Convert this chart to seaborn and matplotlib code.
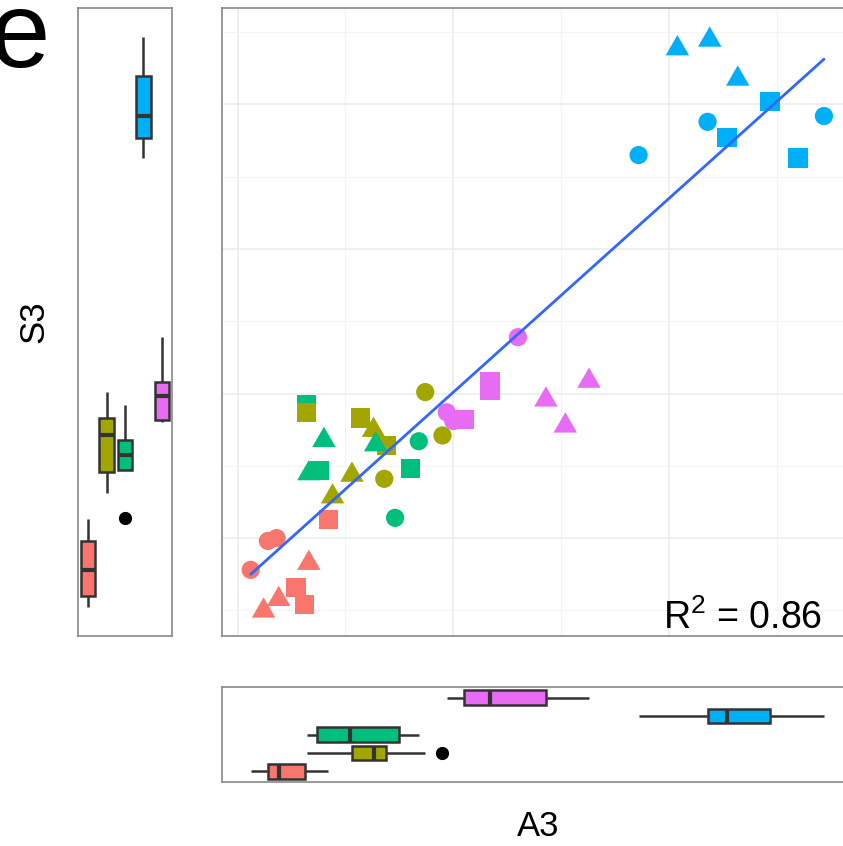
import numpy as np
import pandas as pd
import matplotlib
matplotlib.use('Agg')
import matplotlib.pyplot as plt
import seaborn as sns

# --- data (arbitrary units) -------------------------------------------------
group = (['g1'] * 9 + ['g3'] * 4 + ['g2'] * 9 + ['g3'] * 4
         + ['g5'] * 9 + ['g4'] * 9)
shape = ['circle', 'circle', 'circle', 'triangle', 'triangle', 'triangle', 'square', 'square', 'square',
         'square', 'triangle', 'triangle', 'square',
         'circle', 'circle', 'circle', 'square', 'square', 'square', 'triangle', 'triangle', 'triangle',
         'triangle', 'square', 'circle', 'circle',
         'circle', 'circle', 'circle', 'square', 'square', 'square', 'triangle', 'triangle', 'triangle',
         'triangle', 'triangle', 'triangle', 'square', 'square', 'square', 'circle', 'circle', 'circle']
a3 = [0.06, 0.14, 0.18, 0.33, 0.19, 0.12, 0.27, 0.31, 0.42,
      0.32, 0.40, 0.33, 0.38,
      0.87, 0.95, 0.68, 0.32, 0.57, 0.69, 0.63, 0.53, 0.44,
      0.64, 0.80, 0.84, 0.73,
      1.00, 0.97, 1.30, 1.17, 1.17, 1.05, 1.43, 1.63, 1.52,
      2.04, 2.19, 2.32, 2.47, 2.27, 2.60, 2.18, 2.72, 1.86]
s3 = [-0.22, -0.02, 0.00, -0.15, -0.40, -0.48, -0.34, -0.46, 0.13,
      0.92, 0.70, 0.47, 0.47,
      1.01, 0.71, 0.41, 0.87, 0.83, 0.64, 0.77, 0.46, 0.31,
      0.67, 0.48, 0.67, 0.14,
      0.81, 0.87, 1.39, 1.08, 1.02, 0.82, 0.98, 1.11, 0.80,
      3.41, 3.47, 3.20, 3.02, 2.77, 2.63, 2.88, 2.92, 2.65]

group_order = ['g1', 'g2', 'g3', 'g4', 'g5']
group_colors = ['#F8766D', '#A3A500', '#00BF7D', '#00B0F6', '#E76BF3']
r2_text = r'$\mathregular{R^{2}}$ = 0.86'

df = pd.DataFrame({'group': group, 'shape': shape, 'a3': a3, 's3': s3})
df['panel'] = ''

sns.set_theme(style='white')
plt.rcParams['font.family'] = ['Liberation Sans', 'DejaVu Sans']
plt.rcParams['mathtext.fontset'] = 'custom'
plt.rcParams['mathtext.rm'] = 'Liberation Sans'
plt.rcParams['text.color'] = 'black'

W, H = 843, 846
fig = plt.figure(figsize=(W / 100, H / 100), dpi=100)


def px_axes(x0, y0, x1, y1):
    return fig.add_axes([x0 / W, 1 - y1 / H, (x1 - x0) / W, (y1 - y0) / H])


ax = px_axes(222, 8, 852.6, 636)
ax_left = px_axes(78, 8, 172, 636)
ax_bot = px_axes(222, 687, 852.6, 782)

# main scatter
tri = np.array([(-1, -0.866), (1, -0.866), (0, 0.866)])
sns.scatterplot(data=df, x='a3', y='s3', hue='group', hue_order=group_order,
                palette=group_colors, style='shape',
                markers={'circle': 'o', 'square': 's', 'triangle': tri},
                size='shape', sizes={'circle': 172, 'square': 192, 'triangle': 285},
                linewidth=0, legend=False, ax=ax)
sns.regplot(data=df, x='a3', y='s3', scatter=False, ci=None, truncate=True,
            color='#3366FF', line_kws={'linewidth': 2.0}, ax=ax)

# gridlines first, then limits (set_xticks would widen the view)
ax.set_xticks([0, 1, 2, 3])
ax.set_xticks([0.5, 1.5, 2.5], minor=True)
ax.set_yticks([0, 1, 2, 3])
ax.set_yticks([-0.5, 0.5, 1.5, 2.5, 3.5], minor=True)
xpad = 0.05 * (df.a3.max() - df.a3.min())
ypad = 0.05 * (df.s3.max() - df.s3.min())
xlim = (df.a3.min() - xpad, df.a3.max() + xpad)
ylim = (df.s3.min() - ypad, df.s3.max() + ypad)
ax.set_xlim(xlim)
ax.set_ylim(ylim)
ax.grid(which='major', color='#ebebeb', linewidth=1.1)
ax.grid(which='minor', color='#f4f4f4', linewidth=0.8)
ax.set_axisbelow(True)
ax.text(0.9515, 0.011, r2_text, transform=ax.transAxes, ha='right', va='baseline',
        fontsize=27, color='black')

# marginal boxplots
box_kws = dict(hue='group', hue_order=group_order, palette=group_colors, saturation=1,
               width=0.8, gap=0.2, linecolor='#333333', linewidth=1.8,
               showcaps=False, legend=False,
               medianprops=dict(color='#333333', linewidth=3.0),
               flierprops=dict(marker='o', markerfacecolor='black',
                               markeredgecolor='black', markersize=8.5))
sns.boxplot(data=df, x='panel', y='s3', ax=ax_left, **box_kws)
sns.boxplot(data=df, x='a3', y='panel', orient='h', ax=ax_bot, **box_kws)
ax_left.set_xlim(-0.4066, 0.4066)
ax_left.set_ylim(ylim)
ax_bot.set_xlim(xlim)
ax_bot.set_ylim(-0.411, 0.411)

for a in (ax, ax_left, ax_bot):
    a.set_xlabel('')
    a.set_ylabel('')
    a.tick_params(which='both', length=0, labelbottom=False, labelleft=False)
    for sp in a.spines.values():
        sp.set_color('#888888')
        sp.set_linewidth(1.2)

fig.text(34 / W, 1 - 322 / H, 'S3', rotation=90, ha='center', va='center', fontsize=25)
fig.text(538 / W, 1 - 826 / H, 'A3', ha='center', va='center', fontsize=25)
fig.text(-0.013, 1 - 67 / H, 'e', ha='left', va='baseline', fontsize=78)

fig.savefig('out.png', dpi=100)
